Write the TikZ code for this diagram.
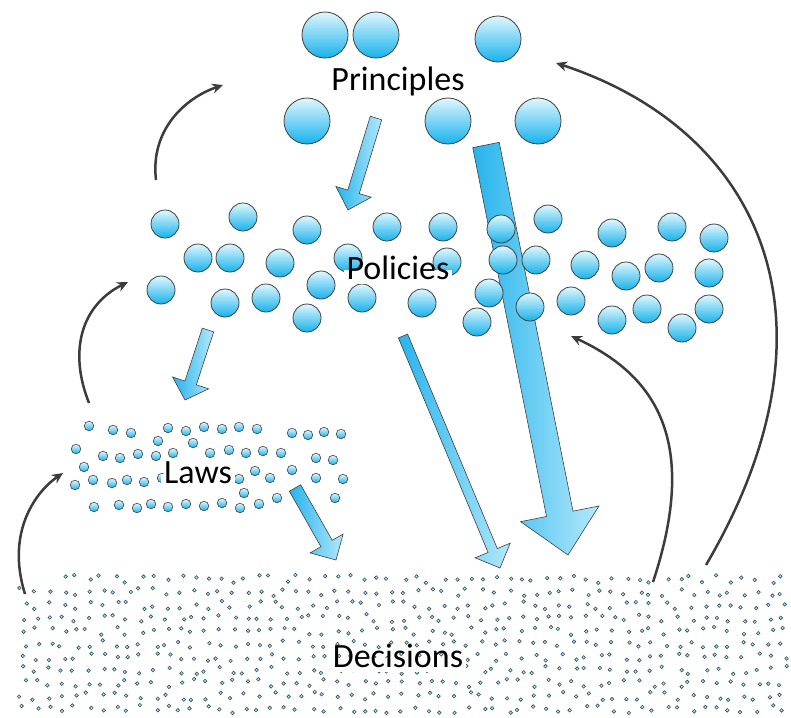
\documentclass[tikz,border=0pt]{standalone}
\usepackage{fontspec}
\setmainfont{Carlito}
\usetikzlibrary{arrows.meta,calc}
\definecolor{balltop}{RGB}{224,247,253}
\definecolor{ballbot}{RGB}{22,178,236}
\definecolor{flowdark}{RGB}{38,180,236}
\definecolor{flowlight}{RGB}{180,232,251}
\definecolor{rim}{RGB}{64,64,64}
\definecolor{linkgray}{RGB}{60,60,60}
\definecolor{dotrim}{RGB}{50,80,95}
\definecolor{dotfill}{RGB}{175,228,246}
\newcommand{\flowarrow}[5]{%
	\coordinate (neck) at ($(#2)!#5!(#1)$);
	\shade[flow] ($(#1)!#3!90:(#2)$) -- ($(neck)!#3!90:(#2)$) -- ($(neck)!#4!90:(#2)$) -- (#2)
	-- ($(neck)!#4!-90:(#2)$) -- ($(neck)!#3!-90:(#2)$) -- ($(#1)!#3!-90:(#2)$) -- cycle;
}
\begin{document}
\begin{tikzpicture}[x=1pt,y=-1pt,
	ball/.style={draw=rim,line width=0.8pt,top color=balltop,bottom color=ballbot},
	flow/.style={draw=rim,line width=0.6pt,left color=flowdark,right color=flowlight},
	curvearrow/.style={draw=linkgray,line width=2.5pt,-{Stealth[length=11pt,width=10pt]}},
	dot/.style={draw=dotrim,fill=dotfill,line width=0.6pt},
	groupname/.style={fill=white,inner xsep=3pt,inner ysep=2pt,text height=0.75em,text depth=0.3em,anchor=base,font=\fontsize{34}{40}\selectfont}]
	\fill[white] (0,0) rectangle (791,717);
	\useasboundingbox (0,0) rectangle (791,717);

	\pgfmathsetseed{17}
	\foreach \j in {0,...,10}
	{
		\pgfmathtruncatemacro{\istart}{\j==0 ? 3 : 0}
		\foreach \i in {\istart,...,58}
		{
			\pgfmathsetmacro{\dx}{23+13.1*\i+4*rand}
			\pgfmathsetmacro{\dy}{579+13*\j+4*rand}
			\filldraw[dot] (\dx,\dy) circle (1.8pt);
		}
	}

	\coordinate (d-laws) at (25,594);
	\coordinate (laws-in) at (63,473);
	\coordinate (laws-out) at (89,403);
	\coordinate (pol-in) at (128,282);
	\coordinate (pol-out) at (156,180);
	\coordinate (pr-in) at (223,85);
	\coordinate (d-pol) at (653,582);
	\coordinate (pol-in2) at (571,336);
	\coordinate (d-pr) at (706,565);
	\coordinate (pr-in2) at (556,63);
	\draw[curvearrow] (d-laws) .. controls (5,530) and (38,490) .. (laws-in);
	\draw[curvearrow] (laws-out) .. controls (68,350) and (82,305) .. (pol-in);
	\draw[curvearrow] (pol-out) .. controls (150,130) and (185,98) .. (pr-in);
	\draw[curvearrow] (d-pol) .. controls (700,440) and (655,375) .. (pol-in2);
	\draw[curvearrow] (d-pr) .. controls (850,320) and (760,130) .. (pr-in2);

	\coordinate (pr-d) at (486,145);
	\coordinate (d-top) at (568,555);
	\flowarrow{pr-d}{d-top}{13.5pt}{40pt}{42pt}

	\foreach \x/\y in {325/35,376/35,498/39,307/121,448/121,538/121}
		\shade[ball] (\x,\y) circle (23pt);
	\foreach \x/\y in {165/224,243/217,307/230,387/227,443/227,198/258,230/258,280/263,348/258,447/262,
		161/290,225/303,266/298,321/285,362/298,307/318,422/303,501/229,548/219,503/260,536/260,489/293,
		477/322,530/307,571/301,612/233,585/265,626/276,659/268,672/227,714/238,709/273,709/309,612/320,
		647/309,682/328}
		\shade[ball] (\x,\y) circle (14pt);
	\foreach \x/\y in {89/426,113/430,131/433,168/428,186/431,204/427,222/429,239/427,257/429,292/433,
		308/435,324/432,341/434,76/449,158/441,193/443,103/456,120/458,138/454,156/456,173/453,210/453,
		229/450,246/453,263/451,281/453,316/458,333/460,84/467,255/471,292/470,75/485,93/480,112/483,
		127/480,144/482,162/478,239/479,270/478,316/478,343/479,244/493,335/498,94/507,119/505,137/508,
		151/504,168/507,186/504,204/506,222/503,240/508,259/504,277/498}
		\shade[ball,line width=0.6pt] (\x,\y) circle (4.8pt);

	\node[groupname] (principles) at (398,90) {Principles};
	\node[groupname] (policies) at (398,279) {Policies};
	\node[groupname] (laws) at (198,483) {Laws};
	\node[groupname] (decisions) at (398,667) {Decisions};

	\coordinate (pr-out) at (376,118);
	\coordinate (pol-top) at (348,210);
	\coordinate (pol-laws) at (208,330);
	\coordinate (laws-top) at (185,400);
	\coordinate (laws-d) at (295,488);
	\coordinate (d-left) at (336,560);
	\coordinate (pol-d) at (403,336);
	\coordinate (d-mid) at (500,568);
	\flowarrow{pr-out}{pol-top}{6pt}{18.5pt}{19pt}
	\flowarrow{pol-laws}{laws-top}{6pt}{19pt}{18pt}
	\flowarrow{laws-d}{d-left}{6.5pt}{19pt}{19pt}
	\flowarrow{pol-d}{d-mid}{5pt}{19pt}{19pt}
\end{tikzpicture}
\end{document}
